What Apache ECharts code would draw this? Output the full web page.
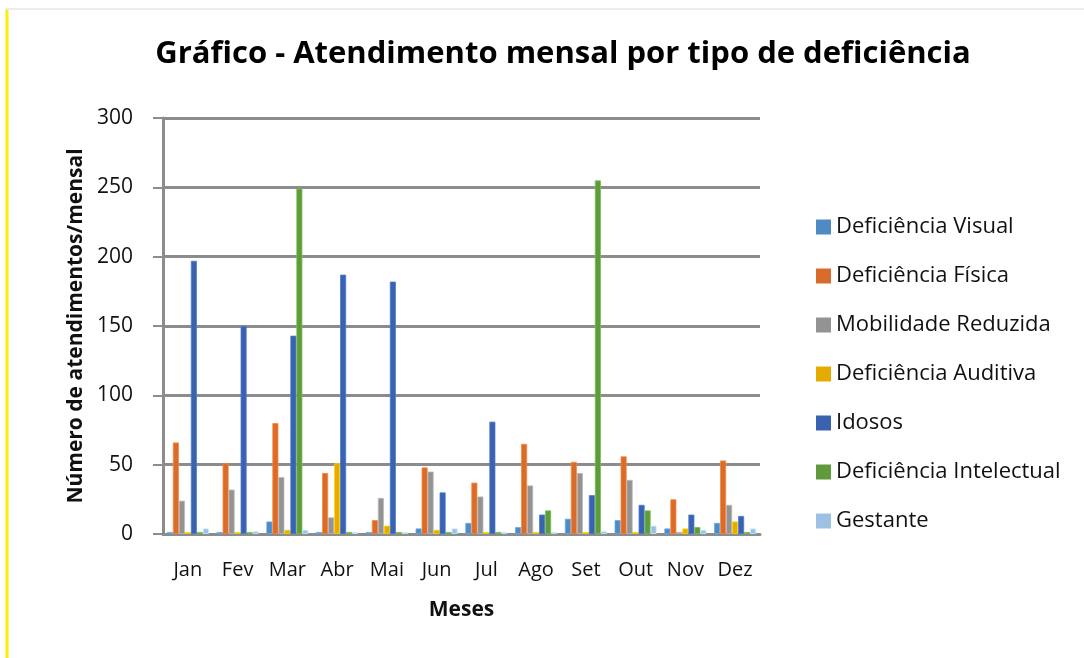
<!DOCTYPE html>
<html>
<head>
<meta charset="utf-8">
<script src="https://cdn.jsdelivr.net/npm/echarts@6/dist/echarts.min.js"></script>
<style>
html, body { margin: 0; padding: 0; background: #fff; }
#main { width: 1084px; height: 658px; }
</style>
</head>
<body>
<div id="main"></div>
<script>
var months = ['Jan', 'Fev', 'Mar', 'Abr', 'Mai', 'Jun', 'Jul', 'Ago', 'Set', 'Out', 'Nov', 'Dez'];
var seriesNames = ['Deficiência Visual', 'Deficiência Física', 'Mobilidade Reduzida',
    'Deficiência Auditiva', 'Idosos', 'Deficiência Intelectual', 'Gestante'];
var colors = ['#4f8ac2', '#d96b2b', '#939393', '#e5ab00', '#3b62ae', '#5f9a3c', '#9dc0e4'];

var defVisual      = [1, 0, 9, 0, 1, 4, 8, 5, 11, 10, 4, 8];
var defFisica      = [66, 51, 80, 44, 10, 48, 37, 65, 52, 56, 25, 53];
var mobReduzida    = [24, 32, 41, 12, 26, 45, 27, 35, 44, 39, 0, 21];
var defAuditiva    = [0, 0, 3, 51, 6, 3, 0, 0, 0, 1, 4, 9];
var idosos         = [197, 150, 143, 187, 182, 30, 81, 14, 28, 21, 14, 13];
var defIntelectual = [1, 0, 249, 0, 1, 0, 0, 17, 255, 17, 5, 0];
var gestante       = [4, 2, 3, 0, 0, 4, 0, 0, 2, 6, 3, 4];

var allData = [defVisual, defFisica, mobReduzida, defAuditiva, idosos, defIntelectual, gestante];

var font = '"Open Sans", "Noto Sans", sans-serif';
var chart = echarts.init(document.getElementById('main'));

var series = [];
for (var i = 0; i < seriesNames.length; i++) {
    series.push({
        name: seriesNames[i],
        type: 'bar',
        data: allData[i],
        barWidth: 6,
        barGap: '0%',
        barMinHeight: 2,
        itemStyle: {
            color: colors[i],
            borderColor: echarts.color.lift(colors[i], -0.25),
            borderWidth: 0.8
        }
    });
}

var option = {
    animation: false,
    backgroundColor: '#fff',
    color: colors,
    textStyle: { fontFamily: font },
    title: {
        text: 'Gráfico - Atendimento mensal por tipo de deficiência',
        left: 558,
        top: 34,
        textAlign: 'center',
        textStyle: { fontSize: 31, fontWeight: 'bold', color: '#000', fontFamily: font }
    },
    legend: {
        orient: 'vertical',
        left: 811,
        top: 211,
        itemWidth: 15,
        itemHeight: 15,
        itemGap: 27,
        itemStyle: { borderWidth: 0 },
        icon: 'rect',
        textStyle: { fontSize: 22, color: '#111', fontFamily: font }
    },
    grid: { left: 163, right: 324, top: 118, bottom: 124 },
    xAxis: {
        type: 'category',
        data: months,
        name: 'Meses',
        nameLocation: 'middle',
        nameGap: 66,
        nameTextStyle: { fontSize: 21, fontWeight: 'bold', color: '#111' },
        axisLine: { lineStyle: { color: '#8c8c8c', width: 3 } },
        axisTick: { show: false },
        axisLabel: { fontSize: 20, color: '#111', margin: 26 }
    },
    yAxis: {
        type: 'value',
        min: 0,
        max: 300,
        interval: 50,
        name: 'Número de atendimentos/mensal',
        nameLocation: 'middle',
        nameGap: 76,
        nameTextStyle: { fontSize: 21, fontWeight: 'bold', color: '#111' },
        axisLine: { show: true, lineStyle: { color: '#8c8c8c', width: 3 } },
        axisTick: { show: true, length: 10, lineStyle: { color: '#8c8c8c', width: 2 } },
        axisLabel: { fontSize: 21, color: '#111', margin: 30 },
        splitLine: { lineStyle: { color: '#8c8c8c', width: 3 } }
    },
    graphic: [
        { type: 'line', shape: { x1: 7, y1: 10, x2: 7, y2: 658 }, style: { stroke: '#ffee00', lineWidth: 3 } },
        { type: 'line', shape: { x1: 5, y1: 9, x2: 1084, y2: 9 }, style: { stroke: '#d9d9d9', lineWidth: 1 } }
    ],
    series: series
};
chart.setOption(option);
</script>
</body>
</html>
